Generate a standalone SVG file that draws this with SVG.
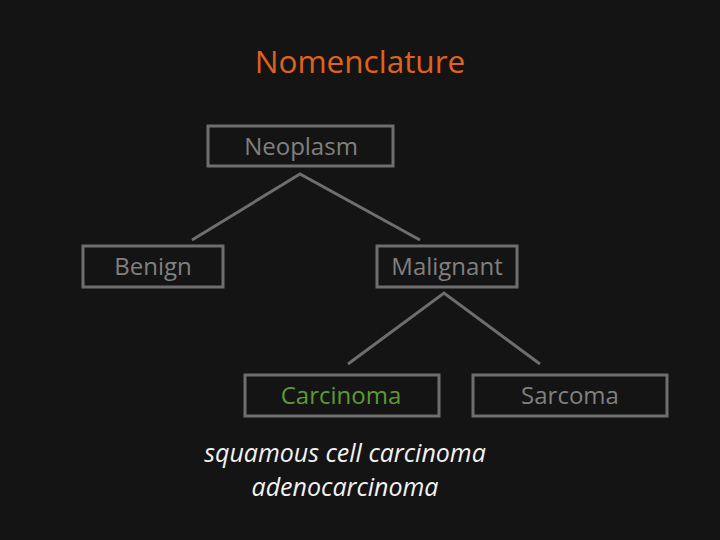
<svg xmlns="http://www.w3.org/2000/svg" width="720" height="540" viewBox="0 0 720 540">
<style>
.bg{fill:#141414}
.box{fill:none;stroke:#6e6e6e;stroke-width:3}
.lbl{font-family:"Open Sans","Liberation Sans",sans-serif;font-size:24px;fill:#808080;text-anchor:middle}
.ln{fill:none;stroke:#6e6e6e;stroke-width:3}
.it{font-family:"Open Sans","Liberation Sans",sans-serif;font-size:25px;font-style:italic;fill:#f2f2f2;text-anchor:middle}
</style>
<rect class="bg" x="0" y="0" width="720" height="540"/>
<text x="360" y="73" style="font-family:'Open Sans','Liberation Sans',sans-serif;font-size:31.5px;fill:#e0621c;text-anchor:middle">Nomenclature</text>
<g id="connectors">
<polyline class="ln" points="192,240 300,174 420,240"/>
<polyline class="ln" points="348,364 444,293 540,364"/>
</g>
<g id="neoplasm"><rect class="box" x="208" y="126" width="185" height="40"/><text class="lbl" x="301" y="155">Neoplasm</text></g>
<g id="benign"><rect class="box" x="83" y="246" width="140" height="41"/><text class="lbl" x="153" y="275">Benign</text></g>
<g id="malignant"><rect class="box" x="377" y="246" width="140" height="41"/><text class="lbl" x="447" y="275">Malignant</text></g>
<g id="carcinoma"><rect class="box" x="245" y="375" width="194" height="41"/><text class="lbl" x="341" y="404" style="fill:#5e9a32">Carcinoma</text></g>
<g id="sarcoma"><rect class="box" x="473" y="375" width="194" height="41"/><text class="lbl" x="570" y="404">Sarcoma</text></g>
<text class="it" x="345" y="462">squamous cell carcinoma</text>
<text class="it" x="345" y="496">adenocarcinoma</text>
</svg>
